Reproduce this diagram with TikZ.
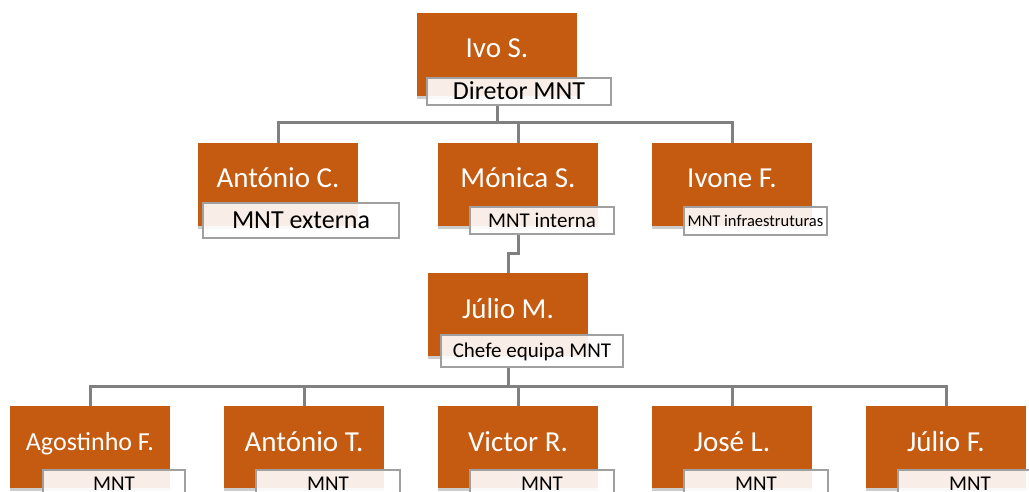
\documentclass[tikz,border=0pt]{standalone}
\usepackage{fontspec}
\setmainfont{Carlito}
\usetikzlibrary{shadows}
\definecolor{boxorange}{RGB}{197,90,17}
\definecolor{linkgray}{RGB}{128,128,128}
\definecolor{labgray}{RGB}{160,160,160}
\pgfdeclarelayer{background}
\pgfsetlayers{background,main}
\tikzset{
  person/.style={fill=boxorange, draw=none, minimum width=160, minimum height=83, inner sep=0,
    general shadow={fill=black, opacity=0.2, shadow xshift=0pt, shadow yshift=-3pt}},
  pname/.style={text=white, inner sep=0, text depth=0pt},
  role/.style={draw=labgray, line width=1.3, fill=white, fill opacity=0.9, text opacity=1,
    text=black, inner sep=0, text depth=0pt},
  link/.style={draw=linkgray, line width=3}
}
\begin{document}
\begin{tikzpicture}[x=1pt,y=-1pt]
\path[use as bounding box, clip] (0,0) rectangle (1029,492);

% boxes
\node[person] (ivo)    at (497,54.5)  {};
\node[person] (antc)   at (278,184.5) {};
\node[person] (monica) at (518,184.5) {};
\node[person] (ivone)  at (732,184.5) {};
\node[person] (julm)   at (508,314.5) {};
\node[person, minimum height=82] (agos) at (90,447)  {};
\node[person, minimum height=82] (antt) at (304,447) {};
\node[person, minimum height=82] (vict) at (518,447) {};
\node[person, minimum height=82] (jose) at (732,447) {};
\node[person, minimum height=82] (julf) at (946,447) {};

% names
\tikzset{big/.style={pname, font=\fontsize{29}{34}\selectfont, text height=18.7pt}}
\node[big] (ivoN)    at ([yshift=6pt]ivo.center)    {Ivo S.};
\node[big] (antcN)   at ([yshift=6pt]antc.center)   {António C.};
\node[big] (monicaN) at ([yshift=6pt]monica.center) {Mónica S.};
\node[big] (ivoneN)  at ([yshift=6pt]ivone.center)  {Ivone F.};
\node[big] (julmN)   at ([yshift=5pt]julm.center)   {Júlio M.};
\node[pname, font=\fontsize{26}{31}\selectfont, text height=16.8pt] (agosN) at ([yshift=5pt]agos.center) {Agostinho F.};
\node[big] (anttN)   at ([yshift=5pt]antt.center)   {António T.};
\node[big] (victN)   at ([yshift=5pt]vict.center)   {Victor R.};
\node[big] (joseN)   at ([yshift=5pt]jose.center)   {José L.};
\node[big] (julfN)   at ([yshift=5pt]julf.center)   {Júlio F.};

% role labels
\tikzset{
  roleL/.style={role, font=\fontsize{26}{30}\selectfont, text height=16.7pt},
  roleM/.style={role, font=\fontsize{21}{25}\selectfont, text height=13.5pt},
  roleS/.style={role, font=\fontsize{16.5}{20}\selectfont, text height=10.6pt}
}
\node[roleL, minimum width=184, minimum height=27] (ivoL)    at (519,91.5)   {Diretor MNT};
\node[roleL, minimum width=196, minimum height=35] (antcL)   at (301,220.5)  {MNT externa};
\node[roleM, minimum width=144, minimum height=27] (monicaL) at (542,220.5)  {MNT interna};
\node[roleS, minimum width=143, minimum height=28] (ivoneL)  at (755.5,221)  {MNT infraestruturas};
\node[roleM, minimum width=182, minimum height=32] (julmL)   at (532,351)    {Chefe equipa MNT};
\node[roleM, minimum width=142, minimum height=27] (agosL)   at (114,483.5)  {MNT};
\node[roleM, minimum width=144, minimum height=27] (anttL)   at (328,483.5)  {MNT};
\node[roleM, minimum width=144, minimum height=27] (victL)   at (542,483.5)  {MNT};
\node[roleM, minimum width=144, minimum height=27] (joseL)   at (756,483.5)  {MNT};
\node[roleM, minimum width=144, minimum height=27] (julfL)   at (970,483.5)  {MNT};

% connectors
\coordinate (busA) at (497,123);
\coordinate (kink) at (518,253);
\coordinate (busB) at (508,386);
\begin{pgfonlayer}{background}
\draw[link] (ivoL.south -| ivo) -- (busA);
\draw[link] (antc.north) |- (busA) -| (ivone.north);
\draw[link] (busA) -| (monica.north);
\draw[link] (monicaL.south -| monica) -- (kink) -| (julm.north);
\draw[link] (julmL.south -| julm) -- (busB);
\draw[link] (agos.north) |- (busB) -| (julf.north);
\draw[link] (antt.north) -- (antt.north |- busB);
\draw[link] (vict.north) -- (vict.north |- busB);
\draw[link] (jose.north) -- (jose.north |- busB);
\end{pgfonlayer}
\end{tikzpicture}
\end{document}
